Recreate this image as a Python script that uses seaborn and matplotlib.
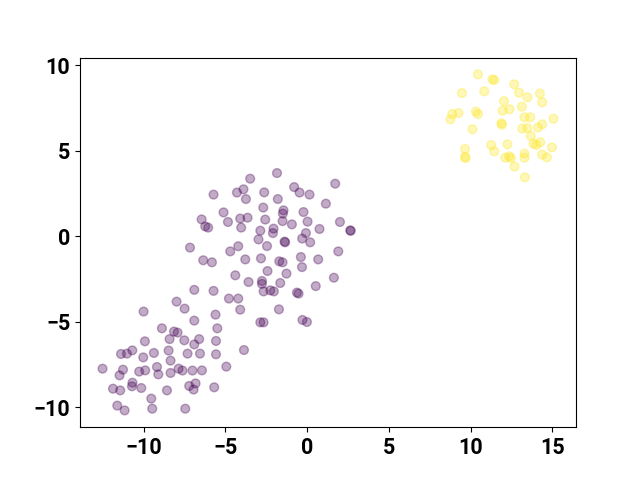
import matplotlib
matplotlib.use("Agg")
import matplotlib.pyplot as plt
import seaborn as sns
import pandas as pd

# Cluster 0 (purple)
x0 = [-3.49, -1.85, -5.73, -4.30, -3.90, -2.63, -3.75, -1.80, -2.69, -5.12,
      -6.46, -4.85, -4.10, -3.65, -2.57, -6.24, -6.06, -4.04, -2.87, -2.06,
      -2.10, -2.98, -7.17, -4.71, -4.22, -2.46, -6.36, -5.83, -3.79, -2.83,
      -2.43, -4.40, -3.59, -2.77, -2.77, -6.91, -5.73, -0.80, -0.47, 0.14,
      1.71, 1.14, -1.45, -1.49, -0.23, -1.51, -0.94, 0.02, 2.00, -0.08,
      0.75, 2.63, 2.66, -1.39, -1.35, -0.31, 0.18, 1.90, -1.71, -1.51,
      -0.39, 0.67, -0.32, -1.27, 1.63, -1.65, 0.52, -2.67, -2.26, -2.04,
      -0.63, -0.53, -7.99, -7.50, -4.79, -4.22, -4.10, -10.01, -5.61, -6.91,
      -2.87, -2.67, -1.73, -0.29, -0.02, -8.89, -8.15, -7.93, -5.50, -9.93,
      -8.42, -7.52, -6.61, -6.91, -5.58, -11.39, -11.03, -10.70, -10.03, -9.38,
      -8.48, -7.32, -6.56, -5.58, -3.87, -8.36, -12.52, -11.27, -11.48, -10.28,
      -9.91, -9.19, -9.11, -8.36, -7.87, -7.63, -7.02, -6.44, -4.95, -11.88,
      -11.44, -10.69, -10.72, -10.15, -8.58, -7.22, -6.83, -6.95, -5.69, -9.54,
      -11.62, -11.17, -9.48, -7.46]
y0 = [3.37, 3.70, 2.44, 2.56, 2.75, 2.57, 2.18, 2.18, 1.68, 1.40,
      0.99, 0.84, 1.04, 1.09, 0.98, 0.58, 0.51, 0.51, 0.33, 0.45,
      0.19, -0.18, -0.66, -0.88, -0.58, -0.57, -1.40, -1.52, -1.35, -1.29,
      -2.03, -2.28, -2.67, -2.61, -2.78, -3.13, -3.19, 2.88, 2.56, 2.44,
      3.08, 1.91, 1.52, 1.33, 1.42, 0.89, 0.70, 0.86, 0.84, 0.19,
      0.43, 0.35, 0.32, -0.31, -0.35, -0.13, -0.35, -0.88, -1.46, -1.52,
      -1.21, -1.35, -1.80, -2.18, -2.42, -2.73, -2.91, -3.22, -3.16, -3.22,
      -3.29, -3.35, -3.82, -4.23, -3.64, -3.64, -4.29, -4.40, -4.58, -4.93,
      -5.03, -5.03, -4.27, -4.89, -5.01, -5.38, -5.57, -5.63, -5.38, -6.14,
      -6.01, -6.08, -6.01, -6.32, -6.12, -6.88, -6.86, -6.67, -7.08, -6.82,
      -6.68, -6.86, -6.86, -6.90, -6.65, -7.27, -7.74, -7.80, -8.13, -7.91,
      -7.84, -7.64, -8.07, -7.99, -7.74, -7.85, -7.85, -7.84, -7.62, -8.91,
      -9.01, -8.56, -8.77, -8.87, -9.01, -8.75, -8.60, -8.96, -8.83, -9.49,
      -9.90, -10.18, -10.08, -10.08]

# Cluster 1 (yellow)
x1 = [10.44, 11.33, 11.44, 9.46, 10.83, 12.66, 12.95, 13.47, 14.23, 14.37,
      12.03, 11.95, 12.37, 13.13, 8.87, 9.25, 8.76, 10.32, 10.44, 13.29,
      13.64, 15.06, 10.11, 11.87, 11.91, 13.15, 13.46, 14.11, 14.37, 13.68,
      12.25, 11.25, 11.44, 13.84, 14.01, 14.25, 14.97, 9.65, 9.65, 9.68,
      12.11, 12.35, 12.46, 13.29, 13.29, 14.37, 14.66, 12.68, 13.31]
y1 = [9.47, 9.18, 9.14, 8.38, 8.48, 8.89, 8.40, 8.13, 8.35, 7.84,
      7.91, 7.35, 7.43, 7.58, 7.15, 7.21, 6.84, 7.29, 7.15, 6.96,
      6.96, 6.88, 6.26, 6.61, 6.53, 6.30, 6.33, 6.37, 6.55, 5.87,
      5.38, 5.34, 4.97, 5.42, 5.34, 5.50, 5.20, 5.11, 4.64, 4.58,
      4.60, 4.68, 4.58, 4.84, 4.60, 4.78, 4.62, 4.08, 3.45]

df = pd.DataFrame({
    "x": x0 + x1,
    "y": y0 + y1,
    "label": [0] * len(x0) + [1] * len(x1),
})

fig, ax = plt.subplots(figsize=(6.4, 4.8), dpi=100)
sns.scatterplot(data=df, x="x", y="y", hue="label",
                palette={0: "#440154", 1: "#fde725"},
                alpha=0.33, s=40, edgecolor="face", linewidth=1,
                legend=False, ax=ax)
ax.set_xlabel("")
ax.set_ylabel("")
ax.set_xticks([-10, -5, 0, 5, 10, 15])
ax.set_yticks([-10, -5, 0, 5, 10])
for lab in ax.get_xticklabels() + ax.get_yticklabels():
    lab.set_fontfamily("Roboto")
    lab.set_fontweight("bold")
    lab.set_fontsize(15.5)
fig.savefig("out.png", dpi=100)
